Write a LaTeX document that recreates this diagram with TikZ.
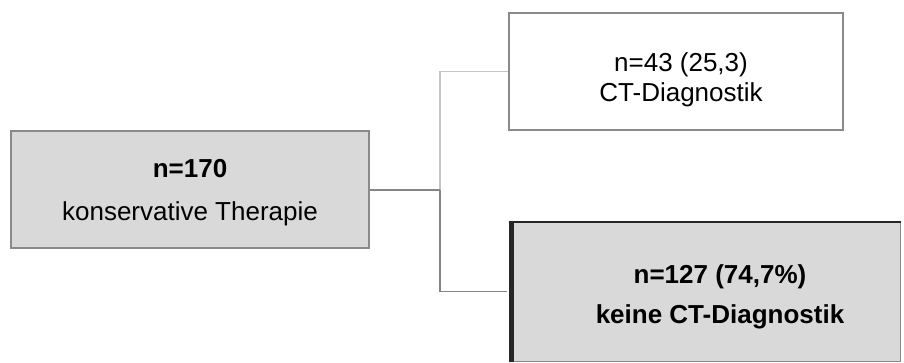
\documentclass[tikz,border=0pt]{standalone}
\usepackage{fontspec}
\setmainfont{Liberation Sans}
\definecolor{boxfill}{HTML}{D9D9D9}
\definecolor{boxline}{HTML}{8A8A8A}
\definecolor{connlight}{HTML}{C4C4C4}
\definecolor{conndark}{HTML}{858585}
\definecolor{darkedge}{HTML}{262626}
\begin{document}
\begin{tikzpicture}[x=1pt,y=-1pt,
  box/.style={draw=boxline, line width=2pt, rectangle, inner sep=0pt},
  txt/.style={font=\fontsize{26}{30}\selectfont, anchor=base, inner sep=0pt},
  btxt/.style={txt, font=\fontsize{26}{30}\selectfont\bfseries},
  conn/.style={draw=conndark, line width=1.8pt},
  connl/.style={draw=connlight, line width=1.8pt}]
\useasboundingbox (0,0) rectangle (904,363);
% boxes
\node[box, fill=boxfill, minimum width=358pt, minimum height=117pt] (L) at (190,190) {};
\node[box, fill=white, minimum width=334pt, minimum height=117pt] (T) at (676,71.5) {};
\node[draw=boxline, line width=1pt, fill=boxfill, rectangle, inner sep=0pt, minimum width=391pt, minimum height=140pt] (B) at (704.5,291.5) {};
\draw[darkedge, line width=5pt] ([xshift=2.5pt]B.south west) -- ([xshift=2.5pt,yshift=-1pt]B.north west);
\draw[darkedge, line width=2pt] ([yshift=-1pt]B.north west) -- ([yshift=-1pt]B.north east);
% texts
\node[btxt] (Ln) at (190,178) {n=170};
\node[txt] (Lt) at (190,221) {konservative Therapie};
\node[txt] (Tn) at (681,72) {n=43 (25,3)};
\node[txt] (Tt) at (681,102) {CT-Diagnostik};
\node[btxt] (Bn) at (720,283) {n=127 (74,7\%)};
\node[btxt] (Bt) at (720,323) {keine CT-Diagnostik};
% connectors
\coordinate (J) at (440,190);
\draw[connl] (J) |- (T.west);
\draw[conn] (L.east) -- (J);
\draw[conn] (J) |- ([xshift=-2pt]B.west);
\end{tikzpicture}
\end{document}
